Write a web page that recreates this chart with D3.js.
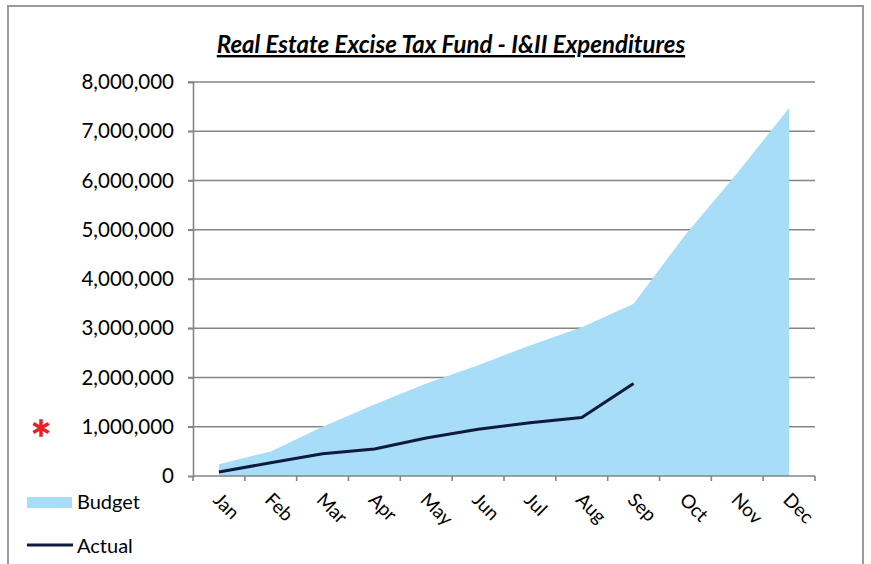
<!DOCTYPE html>
<html>
<head>
<meta charset="utf-8">
<script src="https://cdn.jsdelivr.net/npm/d3@7"></script>
<style>
  html, body { margin: 0; padding: 0; background: #fff; }
  svg { display: block; }
  text { font-family: Lato, "Open Sans", sans-serif; fill: #000; }
</style>
</head>
<body>
<svg id="chart" width="871" height="564"></svg>
<script>
const months = ["Jan","Feb","Mar","Apr","May","Jun","Jul","Aug","Sep","Oct","Nov","Dec"];
const budget = [240000, 500000, 1000000, 1450000, 1880000, 2250000, 2650000, 3020000, 3500000, 4900000, 6150000, 7470000];
const actual = [80000, 270000, 450000, 550000, 770000, 950000, 1080000, 1190000, 1880000];
const yTicks = [0, 1000000, 2000000, 3000000, 4000000, 5000000, 6000000, 7000000, 8000000];
const title = "Real Estate Excise Tax Fund - I&II Expenditures";

const svg = d3.select("#chart");
const pLeft = 193, pRight = 815, pTop = 82, pBottom = 476;

// outer frame
svg.append("path")
  .attr("d", "M8,572 L8,6 L863,6 L863,572")
  .attr("fill", "none").attr("stroke", "#9a9a9a").attr("stroke-width", 2);

const x = d3.scaleBand().domain(months).range([pLeft, pRight]).padding(0);
const y = d3.scaleLinear().domain([0, 8000000]).range([pBottom, pTop]);

// gridlines
svg.append("g").selectAll("line").data(yTicks.filter(d => d > 0)).join("line")
  .attr("x1", pLeft - 5).attr("x2", pRight)
  .attr("y1", d => y(d)).attr("y2", d => y(d))
  .attr("stroke", "#858585").attr("stroke-width", 1.6);

// budget area
const area = d3.area()
  .x(d => x(d.m) + x.bandwidth() / 2)
  .y0(y(0)).y1(d => y(d.v));
svg.append("path")
  .datum(months.map((m, i) => ({ m, v: budget[i] })))
  .attr("d", area).attr("fill", "#a8ddf8");

// actual line
const line = d3.line()
  .x(d => x(d.m) + x.bandwidth() / 2)
  .y(d => y(d.v));
svg.append("path")
  .datum(actual.map((v, i) => ({ m: months[i], v })))
  .attr("d", line).attr("fill", "none")
  .attr("stroke", "#0f1b3c").attr("stroke-width", 3).attr("stroke-linejoin", "round");

// y axis
const yAxis = svg.append("g").attr("transform", `translate(${pLeft},0)`)
  .call(d3.axisLeft(y).tickValues(yTicks).tickFormat(d3.format(",")).tickSize(5).tickPadding(14));
yAxis.select(".domain").attr("stroke", "#858585").attr("stroke-width", 1.6);
yAxis.selectAll(".tick line").attr("stroke", "#858585").attr("stroke-width", 1.6);
yAxis.selectAll("text").style("font-family", "Lato, sans-serif").style("font-size", "20.5px").attr("fill", "#000");

// x axis
const xAxis = svg.append("g").attr("transform", `translate(0,${pBottom})`);
xAxis.append("line").attr("x1", pLeft).attr("x2", pRight).attr("y1", 0).attr("y2", 0)
  .attr("stroke", "#858585").attr("stroke-width", 1.6);
const bounds = months.map(m => x(m)).concat([pRight]);
xAxis.selectAll("line.tk").data(bounds).join("line").attr("class", "tk")
  .attr("x1", d => d).attr("x2", d => d).attr("y1", 0).attr("y2", 5)
  .attr("stroke", "#858585").attr("stroke-width", 1.6);
xAxis.selectAll("text").data(months).join("text")
  .attr("transform", d => `translate(${x(d) + x.bandwidth() / 2 - 7},${25}) rotate(45)`)
  .attr("text-anchor", "start")
  .style("font-size", "19px")
  .text(d => d);

// title
svg.append("text").attr("x", 451).attr("y", 53).attr("text-anchor", "middle")
  .style("font-size", "24px").style("font-weight", "bold").style("font-style", "italic")
  .style("text-decoration", "underline")
  .text(title);

// legend
svg.append("rect").attr("x", 27).attr("y", 497).attr("width", 45).attr("height", 11).attr("fill", "#a8ddf8");
svg.append("text").attr("x", 77).attr("y", 509).style("font-size", "20px").text("Budget");
svg.append("line").attr("x1", 27).attr("x2", 73).attr("y1", 545).attr("y2", 545)
  .attr("stroke", "#0f1b3c").attr("stroke-width", 3);
svg.append("text").attr("x", 77).attr("y", 553).style("font-size", "20px").text("Actual");

// red asterisk
svg.append("path")
  .attr("d", d3.symbol(d3.symbolAsterisk, 220)())
  .attr("transform", "translate(41,428)")
  .attr("fill", "none").attr("stroke", "#e8202a").attr("stroke-width", 3.5);
</script>
</body>
</html>
